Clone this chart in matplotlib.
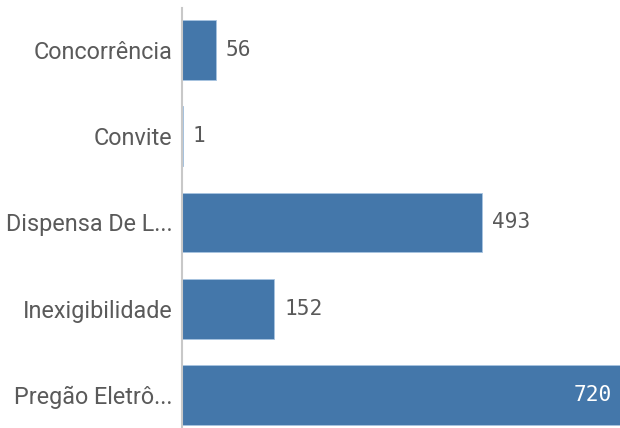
import matplotlib
matplotlib.use("Agg")
import matplotlib.pyplot as plt

categories = ["Concorrência", "Convite", "Dispensa De L...", "Inexigibilidade", "Pregão Eletrô..."]
values = [56, 1, 493, 152, 720]

bar_color = "#4477aa"
fig = plt.figure(figsize=(6.2, 4.28), dpi=100)
ax = fig.add_axes([182/620, 0, 1 - 182/620, 1 - 8/428])
pos = list(range(len(categories)))
ax.barh(pos, values, height=0.695, color=bar_color, edgecolor="#a8c4e0", linewidth=0.6)
ax.set_xlim(0, 720)
ax.set_ylim(4.383, -0.487)
ax.set_yticks(pos)
ax.set_yticklabels(categories, fontfamily="Roboto", fontsize=16.8, color="#5a5a5a")
ax.tick_params(axis="y", length=0, pad=7)
ax.set_xticks([])
for s in ["top", "right", "bottom"]:
    ax.spines[s].set_visible(False)
ax.spines["left"].set_color("#c8c8c8")
ax.spines["left"].set_linewidth(1.5)

for p, v in zip(pos, values):
    if v > 650:
        ax.annotate(str(v), (v, p), xytext=(-6, 0), textcoords="offset points",
                    ha="right", va="center", color="white", fontsize=15.2,
                    family=["DejaVu Sans Mono"], annotation_clip=False)
    else:
        ax.annotate(str(v), (v, p), xytext=(7, 0), textcoords="offset points",
                    ha="left", va="center", color="#595959", fontsize=15.2,
                    family=["DejaVu Sans Mono"], annotation_clip=False)

fig.savefig("out.png", dpi=100)
